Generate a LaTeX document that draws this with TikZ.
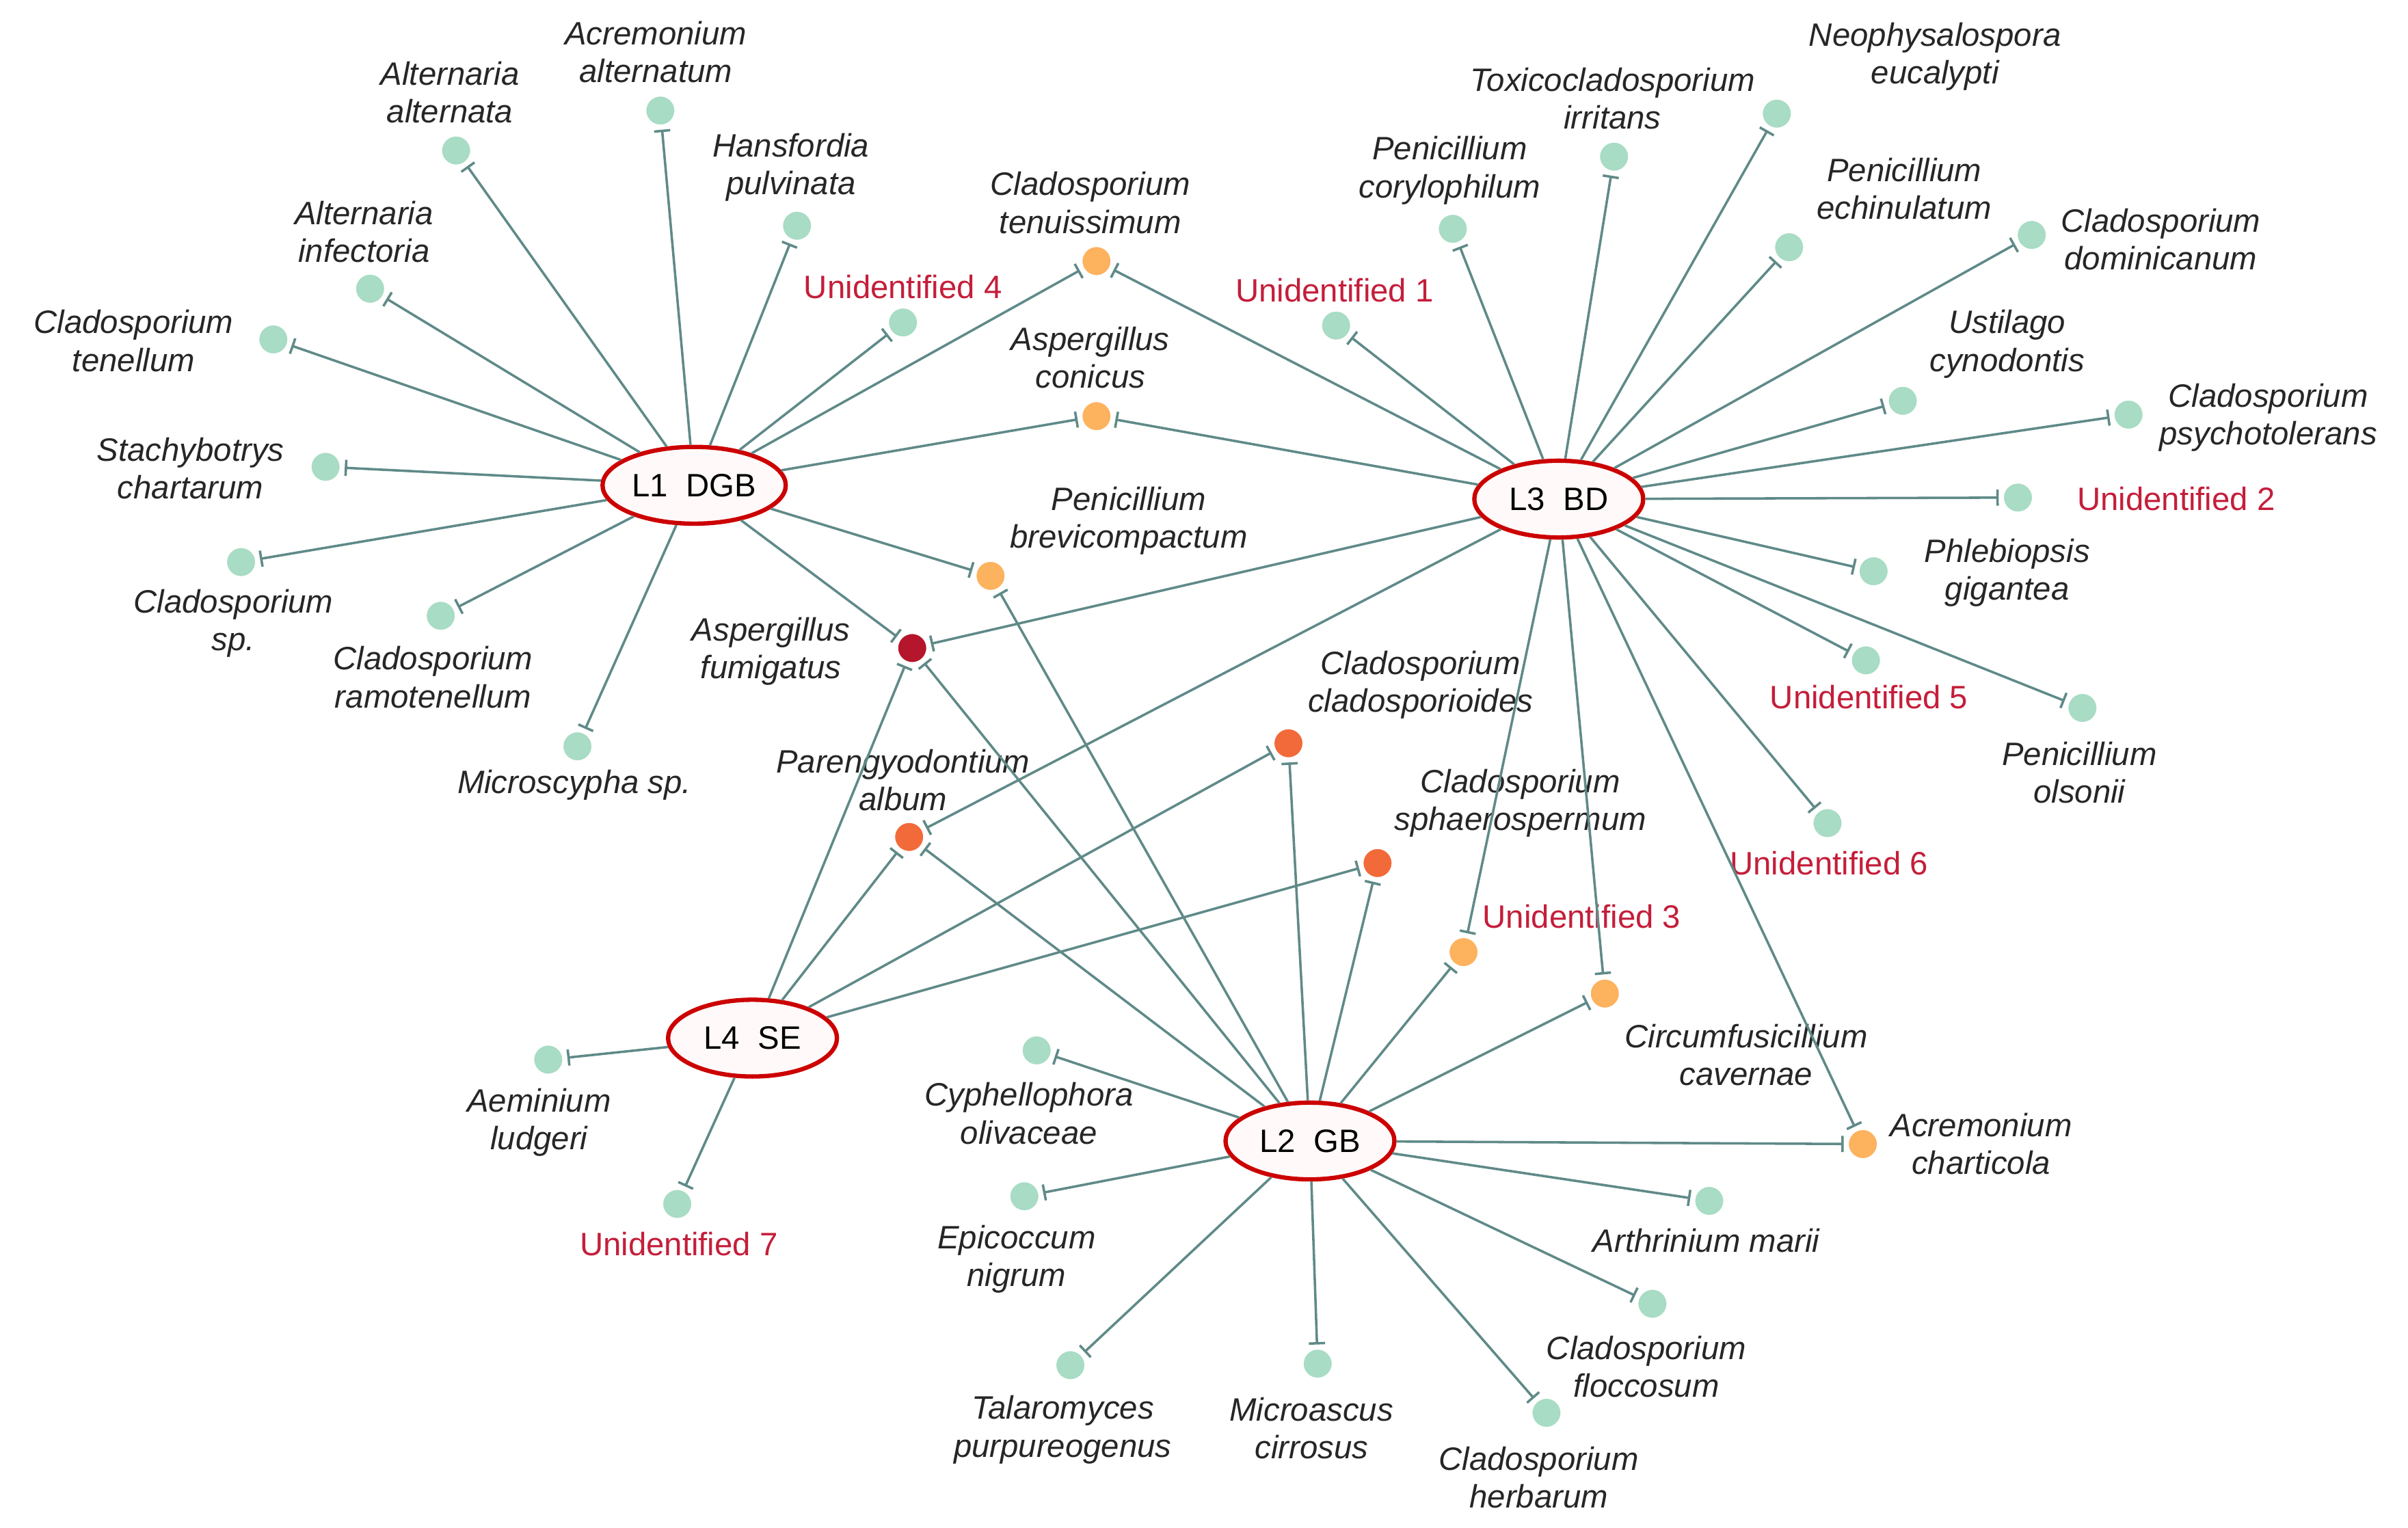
\documentclass[tikz,border=0pt]{standalone}
\usepackage{fontspec}
\setmainfont{Liberation Sans}
\usetikzlibrary{arrows.meta,shapes.geometric}
\definecolor{leaf}{HTML}{A8DCC4}
\definecolor{lorange}{HTML}{FDB25E}
\definecolor{rorange}{HTML}{F26A3A}
\definecolor{dred}{HTML}{B5162B}
\definecolor{edgec}{HTML}{5F8A88}
\definecolor{redlab}{HTML}{C41E3A}
\begin{document}
\begin{tikzpicture}[x=0.02cm,y=-0.02cm,
  hub/.style={ellipse,draw=red!80!black,line width=1.6pt,fill=pink!10,minimum width=2.2cm,minimum height=1.0cm,font=\fontsize{12}{14}\selectfont,inner sep=1pt},
  dot/.style={circle,fill=leaf,draw=white,line width=0.4pt,minimum size=0.38cm,inner sep=0pt},
  lo/.style={dot,fill=lorange},
  ro/.style={dot,fill=rorange},
  dr/.style={dot,fill=dred},
  lab/.style={font=\fontsize{12}{14}\selectfont\itshape,align=center,text=black!85},
  rlab/.style={font=\fontsize{12}{14}\selectfont,text=redlab},
  edge/.style={draw=edgec,line width=0.9pt,-{Bar[width=6pt,line width=0.9pt]},shorten >=1.5pt}]
\useasboundingbox (0,0) rectangle (1568,995);
% hubs
\node[hub] (L1) at (452,316) {L1\ \ DGB};
\node[hub] (L3) at (1015,325) {L3\ \ BD};
\node[hub] (L4) at (490,676) {L4\ \ SE};
\node[hub] (L2) at (853,743) {L2\ \ GB};
% L1 leaves
\node[dot] (aa) at (297,98) {};   \node[lab] (taa) at (293,60) {Alternaria\\alternata};
\node[dot] (acal) at (430,72) {}; \node[lab] (tacal) at (427,34) {Acremonium\\alternatum};
\node[dot] (hp) at (519,147) {};  \node[lab] (thp) at (515,109) {Hansfordia\\pulvinata};
\node[dot] (ai) at (241,188) {};  \node[lab] (tai) at (237,151) {Alternaria\\infectoria};
\node[dot] (ct) at (178,221) {};  \node[lab] (tct) at (87,222) {Cladosporium\\tenellum};
\node[dot] (sc) at (212,304) {};  \node[lab] (tsc) at (124,305) {Stachybotrys\\chartarum};
\node[dot] (csp) at (157,366) {}; \node[lab] (tcsp) at (152,406) {Cladosporium\\sp.};
\node[dot] (cr) at (287,401) {};  \node[lab] (tcr) at (282,441) {Cladosporium\\ramotenellum};
\node[dot] (ms) at (376,486) {};  \node[lab] (tms) at (374,511) {Microscypha sp.};
\node[dot] (u4) at (588,210) {};  \node[rlab] (tu4) at (588,187) {Unidentified 4};
% shared
\node[lo] (cte) at (714,170) {};  \node[lab] (tcte) at (710,132) {Cladosporium\\tenuissimum};
\node[lo] (acon) at (714,271) {}; \node[lab] (tacon) at (710,233) {Aspergillus\\conicus};
\node[lo] (pb) at (645,375) {};   \node[lab] (tpb) at (735,339) {Penicillium\\brevicompactum};
\node[dr] (af) at (594,422) {};   \node[lab] (taf) at (502,424) {Aspergillus\\fumigatus};
\node[ro] (pa) at (592,545) {};   \node[lab] (tpa) at (588,508) {Parengyodontium\\album};
\node[ro] (cc) at (839,484) {};   \node[lab] (tcc) at (925,446) {Cladosporium\\cladosporioides};
\node[ro] (cs) at (897,562) {};   \node[lab] (tcs) at (990,523) {Cladosporium\\sphaerospermum};
\node[lo] (u3) at (953,620) {};   \node[rlab] (tu3) at (1030,597) {Unidentified 3};
\node[lo] (cca) at (1045,647) {}; \node[lab] (tcca) at (1137,687) {Circumfusicillium\\cavernae};
\node[lo] (ach) at (1213,745) {}; \node[lab] (tach) at (1290,745) {Acremonium\\charticola};
% L3 leaves
\node[dot] (pc) at (946,149) {};  \node[lab] (tpc) at (944,111) {Penicillium\\corylophilum};
\node[dot] (ti) at (1051,102) {}; \node[lab] (tti) at (1050,64) {Toxicocladosporium\\irritans};
\node[dot] (ne) at (1157,74) {};  \node[lab] (tne) at (1260,37) {Neophysalospora\\eucalypti};
\node[dot] (pe) at (1165,161) {}; \node[lab] (tpe) at (1240,123) {Penicillium\\echinulatum};
\node[dot] (cd) at (1323,153) {}; \node[lab] (tcd) at (1407,156) {Cladosporium\\dominicanum};
\node[dot] (uc) at (1239,261) {}; \node[lab] (tuc) at (1307,224) {Ustilago\\cynodontis};
\node[dot] (cps) at (1386,270) {};\node[lab] (tcps) at (1477,272) {Cladosporium\\psychotolerans};
\node[dot] (u2) at (1314,324) {}; \node[rlab] (tu2) at (1417,325) {Unidentified 2};
\node[dot] (pg) at (1220,372) {}; \node[lab] (tpg) at (1307,373) {Phlebiopsis\\gigantea};
\node[dot] (u5) at (1215,430) {}; \node[rlab] (tu5) at (1217,454) {Unidentified 5};
\node[dot] (po) at (1356,461) {}; \node[lab] (tpo) at (1354,503) {Penicillium\\olsonii};
\node[dot] (u6) at (1190,536) {}; \node[rlab] (tu6) at (1191,562) {Unidentified 6};
\node[dot] (u1) at (870,212) {};  \node[rlab] (tu1) at (869,189) {Unidentified 1};
% L4 leaves
\node[dot] (al) at (357,690) {};  \node[lab] (tal) at (351,731) {Aeminium\\ludgeri};
\node[dot] (u7) at (441,784) {};  \node[rlab] (tu7) at (442,810) {Unidentified 7};
% L2 leaves
\node[dot] (co) at (675,684) {};  \node[lab] (tco) at (670,725) {Cyphellophora\\olivaceae};
\node[dot] (en) at (667,779) {};  \node[lab] (ten) at (662,820) {Epicoccum\\nigrum};
\node[dot] (tp) at (697,889) {};  \node[lab] (ttp) at (692,931) {Talaromyces\\purpureogenus};
\node[dot] (mc) at (858,888) {};  \node[lab] (tmc) at (854,930) {Microascus\\cirrosus};
\node[dot] (ch) at (1007,920) {}; \node[lab] (tch) at (1002,962) {Cladosporium\\herbarum};
\node[dot] (cf) at (1076,849) {}; \node[lab] (tcf) at (1072,890) {Cladosporium\\floccosum};
\node[dot] (am) at (1113,782) {}; \node[lab] (tam) at (1111,808) {Arthrinium marii};
% edges
\begin{scope}[on background layer/.style={}]
\foreach \t in {aa,acal,hp,ai,ct,sc,csp,cr,ms,u4,cte,acon,pb,af}{\draw[edge] (L1) -- (\t);}
\foreach \t in {pc,ti,ne,pe,cd,uc,cps,u2,pg,u5,po,u6,u1,cte,acon,af,pa,u3,cca,ach}{\draw[edge] (L3) -- (\t);}
\foreach \t in {al,u7,af,pa,cc,cs}{\draw[edge] (L4) -- (\t);}
\foreach \t in {co,en,tp,mc,ch,cf,am,pb,af,pa,cc,cs,u3,cca,ach}{\draw[edge] (L2) -- (\t);}
\end{scope}
\end{tikzpicture}
\end{document}
